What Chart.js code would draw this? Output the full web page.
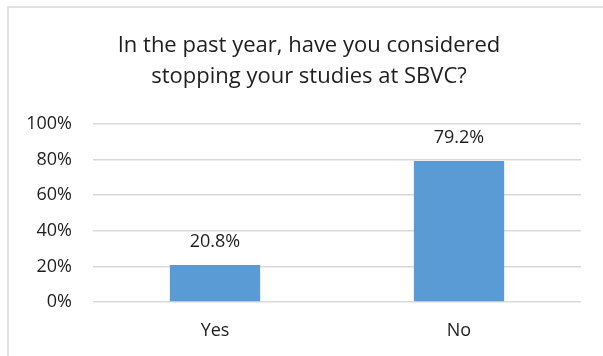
<!DOCTYPE html>
<html>
<head>
<meta charset="utf-8">
<script src="https://cdn.jsdelivr.net/npm/chart.js@4/dist/chart.umd.min.js"></script>
<style>
  html, body { margin: 0; padding: 0; background: #ffffff; }
  #wrap { position: absolute; left: 0; top: 0; width: 603px; height: 356px; }
</style>
</head>
<body>
<div id="wrap"><canvas id="chart" width="603" height="356"></canvas></div>
<script>
// Survey responses
const categories = ['Yes', 'No'];
const responseShare = [20.8, 79.2];
const titleLines = ['In the past year, have you considered', 'stopping your studies at SBVC?'];
const yTickValues = [0, 20, 40, 60, 80, 100];

const FONT = '"Open Sans", Lato, sans-serif';
const TEXT = '#1e1e1e';

// Thin frame along the top and left edges of the chart
const framePlugin = {
  id: 'frame',
  beforeDraw(chart) {
    const ctx = chart.ctx;
    ctx.save();
    ctx.strokeStyle = '#d9d9d9';
    ctx.lineWidth = 1.5;
    ctx.beginPath();
    ctx.moveTo(8, chart.height);
    ctx.lineTo(8, 7);
    ctx.lineTo(chart.width, 7);
    ctx.stroke();
    ctx.restore();
  }
};

// Two-line heading, centred over the framed area
const headingPlugin = {
  id: 'heading',
  afterDraw(chart) {
    const ctx = chart.ctx;
    ctx.save();
    ctx.font = '22px ' + FONT;
    ctx.fillStyle = TEXT;
    ctx.textAlign = 'center';
    ctx.textBaseline = 'alphabetic';
    const cx = (8 + chart.width + 7) / 2;
    titleLines.forEach((line, i) => ctx.fillText(line, cx, 52 + i * 31));
    ctx.restore();
  }
};

// Value labels above each bar
const valueLabelPlugin = {
  id: 'valueLabels',
  afterDatasetsDraw(chart) {
    const ctx = chart.ctx;
    const meta = chart.getDatasetMeta(0);
    ctx.save();
    ctx.font = '18px ' + FONT;
    ctx.fillStyle = TEXT;
    ctx.textAlign = 'center';
    ctx.textBaseline = 'middle';
    meta.data.forEach((bar, i) => {
      const v = chart.data.datasets[0].data[i];
      ctx.fillText(v.toFixed(1) + '%', bar.x, bar.y - 23);
    });
    ctx.restore();
  }
};

new Chart(document.getElementById('chart'), {
  type: 'bar',
  data: {
    labels: categories,
    datasets: [{
      data: responseShare,
      backgroundColor: '#5b9bd5',
      borderWidth: 0,
      categoryPercentage: 1,
      barPercentage: 0.37
    }]
  },
  options: {
    responsive: false,
    animation: false,
    layout: { padding: { left: 0, right: 22, top: 124, bottom: 0 } },
    plugins: {
      legend: { display: false },
      tooltip: { enabled: false },
      title: { display: false }
    },
    scales: {
      x: {
        grid: { display: false, drawTicks: false },
        border: { display: false },
        ticks: { color: TEXT, font: { family: FONT, size: 18 }, padding: 18 },
        afterFit(scale) { scale.height = 54; }
      },
      y: {
        min: 0,
        max: 100,
        afterBuildTicks(scale) { scale.ticks = yTickValues.map(v => ({ value: v })); },
        grid: { color: '#d9d9d9', lineWidth: 1.5, drawTicks: false },
        border: { display: false },
        ticks: {
          color: TEXT,
          font: { family: FONT, size: 18 },
          padding: 21,
          callback: v => v + '%'
        },
        afterFit(scale) { scale.width = 93; }
      }
    }
  },
  plugins: [framePlugin, headingPlugin, valueLabelPlugin]
});
</script>
</body>
</html>
